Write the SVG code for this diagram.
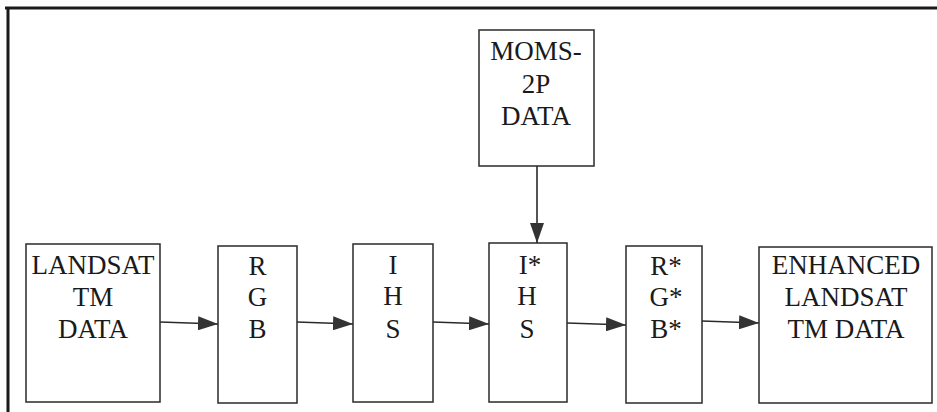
<svg xmlns="http://www.w3.org/2000/svg" width="937" height="412" viewBox="0 0 937 412">
<defs>
<marker id="ah" markerWidth="20" markerHeight="14" refX="20" refY="7" orient="auto" markerUnits="userSpaceOnUse">
<path d="M0,0 L20,7 L0,14 Z" fill="#333"/>
</marker>
<style>
.box{fill:#fff;stroke:#2a2a2a;stroke-width:1.5}
.t{font-family:'Liberation Serif','Times New Roman',serif;font-size:27px;fill:#1a1a1a;text-anchor:middle}
.c{stroke:#2a2a2a;stroke-width:1.6;fill:none}
</style>
</defs>
<rect width="937" height="412" fill="#fff"/>
<g id="frame">
<line x1="5" y1="8" x2="937" y2="8" stroke="#1a1a1a" stroke-width="3"/>
<line x1="8" y1="7" x2="8" y2="412" stroke="#1a1a1a" stroke-width="3"/>
</g>
<g id="moms">
<rect class="box" x="479" y="30" width="115" height="136"/>
<text class="t" x="536" y="60">MOMS-</text>
<text class="t" x="536" y="93">2P</text>
<text class="t" x="536" y="125">DATA</text>
</g>
<g id="landsat">
<rect class="box" x="26" y="244" width="134" height="158"/>
<text class="t" x="93" y="274">LANDSAT</text>
<text class="t" x="93" y="306">TM</text>
<text class="t" x="93" y="338">DATA</text>
</g>
<g id="rgb">
<rect class="box" x="218" y="246" width="79" height="157"/>
<text class="t" x="257.500" y="275">R</text>
<text class="t" x="257.500" y="306">G</text>
<text class="t" x="257.500" y="338">B</text>
</g>
<g id="ihs">
<rect class="box" x="353" y="244" width="80" height="158"/>
<text class="t" x="393" y="274">I</text>
<text class="t" x="393" y="305">H</text>
<text class="t" x="393" y="338">S</text>
</g>
<g id="ihs-star">
<rect class="box" x="489" y="243" width="78" height="159"/>
<text class="t" x="530" y="274">I*</text>
<text class="t" x="527" y="305">H</text>
<text class="t" x="527" y="338">S</text>
</g>
<g id="rgb-star">
<rect class="box" x="626" y="246" width="76" height="157"/>
<text class="t" x="666" y="275">R*</text>
<text class="t" x="666" y="306">G*</text>
<text class="t" x="666" y="338">B*</text>
</g>
<g id="enhanced">
<rect class="box" x="759" y="247" width="173" height="156"/>
<text class="t" x="846" y="274">ENHANCED</text>
<text class="t" x="846" y="306">LANDSAT</text>
<text class="t" x="846" y="338">TM DATA</text>
</g>
<g id="connectors">
<line class="c" x1="537" y1="166" x2="537" y2="243" marker-end="url(#ah)"/>
<line class="c" x1="160" y1="322" x2="218" y2="324" marker-end="url(#ah)"/>
<line class="c" x1="297" y1="322" x2="353" y2="324" marker-end="url(#ah)"/>
<line class="c" x1="433" y1="322" x2="489" y2="324" marker-end="url(#ah)"/>
<line class="c" x1="567" y1="323" x2="626" y2="325" marker-end="url(#ah)"/>
<line class="c" x1="702" y1="321" x2="759" y2="323" marker-end="url(#ah)"/>
</g>
</svg>
